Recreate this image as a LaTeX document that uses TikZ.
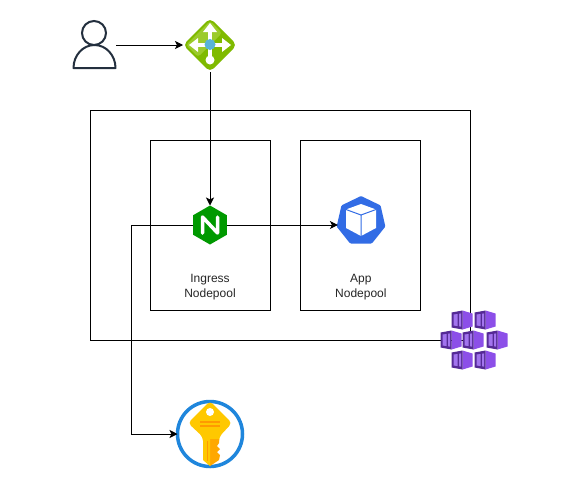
\documentclass[tikz,border=0pt]{standalone}
\usepackage{fontspec}
\setmainfont{Liberation Sans}
\usetikzlibrary{positioning,arrows.meta,calc,shapes.geometric}
\definecolor{aksInk}{HTML}{232F3E}
\definecolor{aksGreen}{HTML}{7FBA00}
\definecolor{aksLime}{HTML}{9CCB2C}
\definecolor{aksSky}{HTML}{59B4D9}
\definecolor{aksNginx}{HTML}{009900}
\definecolor{aksKube}{HTML}{326CE5}
\definecolor{aksRing}{HTML}{1F86DC}
\definecolor{aksGold}{HTML}{FFC800}
\definecolor{aksAmber}{HTML}{FF9A00}
\definecolor{aksPurple}{HTML}{8C4FE8}
\definecolor{aksDark}{HTML}{552A96}
\definecolor{aksPale}{HTML}{A274EE}
\tikzset{
  poolbox/.style={draw=black,line width=0.9pt,minimum width=120pt,minimum height=170pt,inner sep=0pt},
  poollabel/.style={align=center,font=\fontsize{12}{15}\selectfont,text=black!85,inner sep=0pt},
  flowarrow/.style={-{Stealth[length=8pt,width=8pt,inset=2pt]},line width=0.9pt,draw=black},
  iconbase/.style={inner sep=0pt,outer sep=0pt},
  pics/aksnode/.style={code={
    \fill[aksPurple] (0.5,-9.5) -- (10.5,-6.5) -- (10.5,6.5) -- (0.5,9.5) -- cycle;
    \fill[aksDark] (-10.5,-7.5) -- (0.5,-9.5) -- (0.5,9.5) -- (-10.5,7.5) -- cycle;
    \fill[aksPale] (-8.5,-5.5) -- (-4.5,-6) -- (-4.5,6) -- (-8.5,5.5) -- cycle;
    \fill[aksPale] (-3,-6.3) -- (-0.8,-6.6) -- (-0.8,6.6) -- (-3,6.3) -- cycle;
  }},
  pics/vaultkey/.style={code={
    \fill[aksGold,rounded corners=4pt] (0,-33) -- (22,-11) -- (9,3) -- (9,10) -- (-7,10) -- (-7,3) -- (-22,-11) -- cycle;
    \fill[aksAmber!70!aksGold] (9,5) -- (9,9) -- (7,12) -- (10,15) -- (7,18) -- (10,21) -- (9,26) -- (0,32) -- (0,5) -- cycle;
    \fill[aksGold] (-7,5) -- (0,5) -- (0,32) -- (-7,26) -- cycle;
    \fill[white] (0,-22) circle (4);
    \fill[aksAmber] (-10,-13) rectangle (10,-11);
    \fill[aksAmber] (-10,-9) rectangle (10,-7);
    \fill[aksAmber] (-3.5,7) rectangle (-2.5,27);
  }}
}
\begin{document}
\begin{tikzpicture}[x=1pt,y=-1pt,node distance=30pt]
  \useasboundingbox[fill=white] (0,0) rectangle (561,482);
  % boxes
  \node[draw=black,line width=0.9pt,minimum width=380pt,minimum height=230pt,inner sep=0pt] (cluster) at (280,225) {};
  \node[poolbox] (ingress) at (210,225) {};
  \node[poolbox,right=of ingress] (app) {};
  \node[poollabel,above=10.5pt of ingress.south] (ingresslabel) {Ingress\\Nodepool};
  \node[poollabel,above=10.5pt of app.south] (applabel) {App\\Nodepool};
  % icons
  \node[iconbase,minimum width=44pt,minimum height=48pt] (user) at (94,45) {};
  \node[iconbase,diamond,aspect=1,fill=aksGreen,rounded corners=5pt,minimum size=54pt] (gateway) at (210,45) {};
  \node[iconbase,regular polygon,regular polygon sides=6,shape border rotate=30,fill=aksNginx,minimum size=39pt] (nginx) at (210,225) {};
  \node[iconbase,regular polygon,regular polygon sides=7,fill=aksKube,rounded corners=1pt,minimum size=50pt] (kube) at (361,221) {};
  \node[iconbase,circle,draw=aksRing,line width=3.5pt,fill=white,minimum size=65pt] (vault) at (210,434) {};
  % connectors
  \draw[flowarrow] (user.east) -- (gateway.west);
  \draw[flowarrow] (gateway.south) -- (nginx.north);
  \draw[flowarrow] (nginx.east) -- (nginx.east -| kube.west);
  \draw[flowarrow] (nginx.west) -- (131,225) |- (vault.west);
  % user
  \draw[aksInk,line width=2pt] (94,33) circle (12);
  \draw[aksInk,line width=2pt,line join=round] (73.5,68) arc[start angle=180,end angle=360,x radius=21,y radius=23] -- cycle;
  % gateway
  \fill[aksLime,rounded corners=3pt] (186,45) -- (210,21) -- (222,33) -- (198,57) -- cycle;
  \draw[white,line width=3.5pt] (210,28) -- (210,58);
  \draw[white,line width=3.5pt] (193,45) -- (227,45);
  \fill[white] (210,23) -- (217,32) -- (203,32) -- cycle;
  \fill[white] (189,45) -- (198,38) -- (198,52) -- cycle;
  \fill[white] (231,45) -- (222,38) -- (222,52) -- cycle;
  \fill[white] (210,60) circle (4.5);
  \fill[aksSky] (210,44.5) circle (5.5);
  % nginx
  \draw[white,line width=3.5pt,line join=round,line cap=round] (202.5,233) -- (202.5,217) -- (217.5,233) -- (217.5,217);
  % kube
  \fill[white] (361,204) -- (376,209.5) -- (376,228) -- (361,236) -- (346,228) -- (346,209.5) -- cycle;
  \draw[aksKube,line width=1pt] (346,209.5) -- (361,215) -- (376,209.5) (361,215) -- (361,236);
  % key
  \pic at (vault.center) {vaultkey};
  % aks nodes
  \foreach \nx/\ny in {462/320,485/320,451/340,473/340,497/340,462/360,485/360}
    \pic at (\nx,\ny) {aksnode};
\end{tikzpicture}
\end{document}
